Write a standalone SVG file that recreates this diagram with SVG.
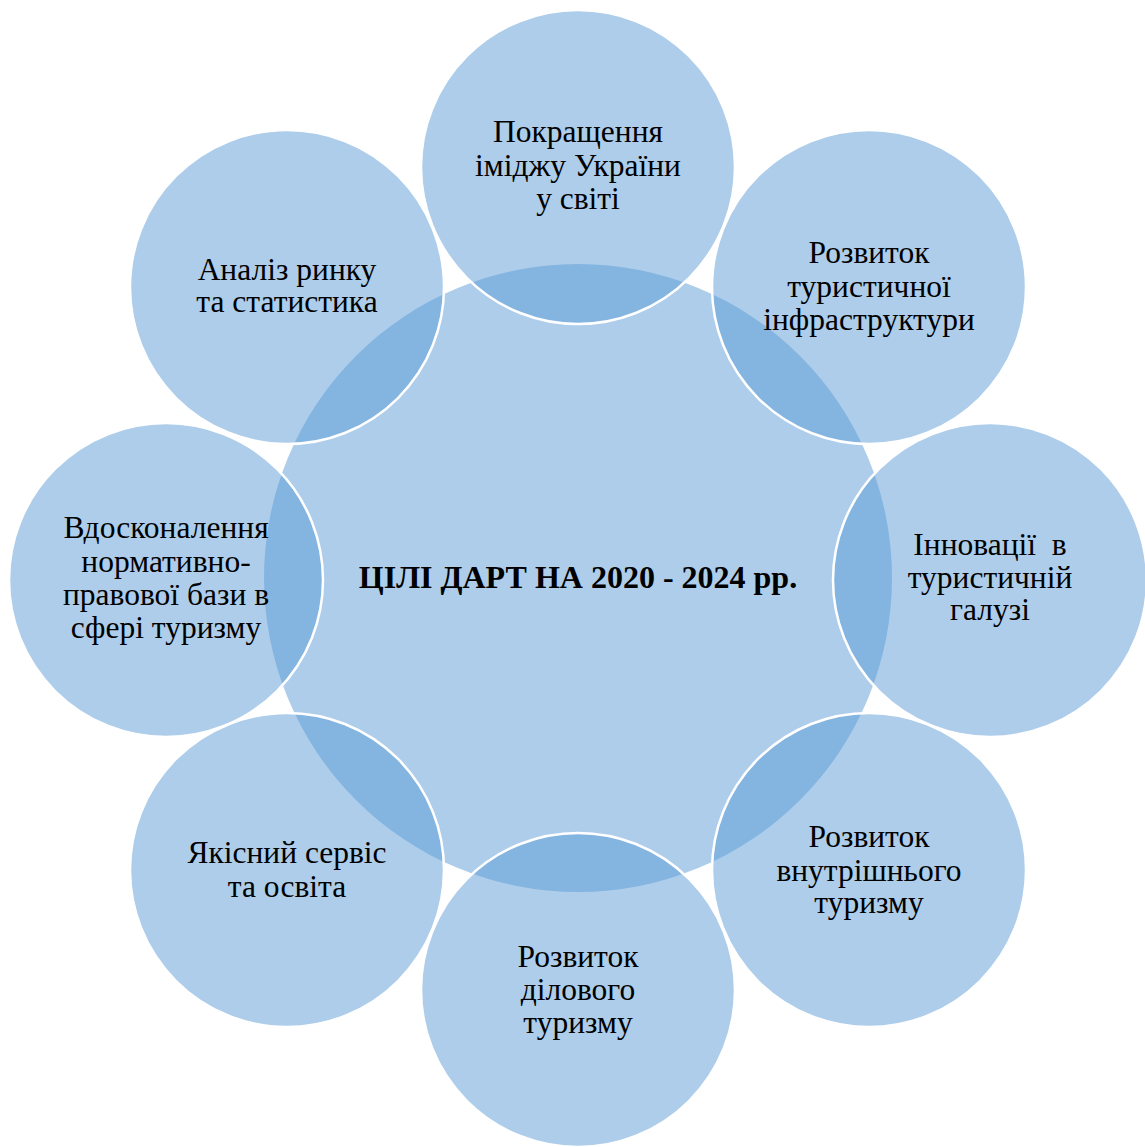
<svg xmlns="http://www.w3.org/2000/svg" width="1145" height="1147" viewBox="0 0 1145 1147">
<style>
.c{fill:#5B9BD5;fill-opacity:0.5;stroke:#ffffff;stroke-width:2.5}
.m{fill:#5B9BD5;fill-opacity:0.5;stroke:none}
.t{font-family:"Liberation Serif","Times New Roman",serif;font-size:31.5px;fill:#000;text-anchor:middle}
.b{font-family:"Liberation Serif","Times New Roman",serif;font-size:32px;font-weight:bold;fill:#000;text-anchor:middle}
.p{white-space:pre}
</style>
<rect width="1145" height="1147" fill="#ffffff"/>
<g id="center">
<circle class="m" cx="578" cy="578" r="314"/>
<text class="b" x="578" y="588">ЦІЛІ ДАРТ НА 2020 - 2024 рр.</text>
</g>
<g id="n1">
<circle class="c" cx="578" cy="167" r="157"/>
<text class="t" x="578" y="142">Покращення</text>
<text class="t" x="578" y="176">іміджу України</text>
<text class="t" x="578" y="209">у світі</text>
</g>
<g id="n2">
<circle class="c" cx="869" cy="287" r="157"/>
<text class="t" x="869" y="263">Розвиток</text>
<text class="t" x="869" y="297">туристичної</text>
<text class="t" x="869" y="330">інфраструктури</text>
</g>
<g id="n3">
<circle class="c" cx="990" cy="580" r="157"/>
<text class="t p" x="990" y="555">Інновації  в</text>
<text class="t" x="990" y="588">туристичній</text>
<text class="t" x="990" y="620">галузі</text>
</g>
<g id="n4">
<circle class="c" cx="869" cy="870" r="157"/>
<text class="t" x="869" y="847">Розвиток</text>
<text class="t" x="869" y="881">внутрішнього</text>
<text class="t" x="869" y="913">туризму</text>
</g>
<g id="n5">
<circle class="c" cx="578" cy="990" r="157"/>
<text class="t" x="578" y="967">Розвиток</text>
<text class="t" x="578" y="1000">ділового</text>
<text class="t" x="578" y="1033">туризму</text>
</g>
<g id="n6">
<circle class="c" cx="287" cy="870" r="157"/>
<text class="t" x="287" y="863">Якісний сервіс</text>
<text class="t" x="287" y="897">та освіта</text>
</g>
<g id="n7">
<circle class="c" cx="166" cy="580" r="157"/>
<text class="t" x="166" y="538">Вдосконалення</text>
<text class="t" x="166" y="572">нормативно-</text>
<text class="t" x="166" y="605">правової бази в</text>
<text class="t" x="166" y="638">сфері туризму</text>
</g>
<g id="n8">
<circle class="c" cx="287" cy="287" r="157"/>
<text class="t" x="287" y="280">Аналіз ринку</text>
<text class="t" x="287" y="312">та статистика</text>
</g>
<g id="connectors"></g>
</svg>
